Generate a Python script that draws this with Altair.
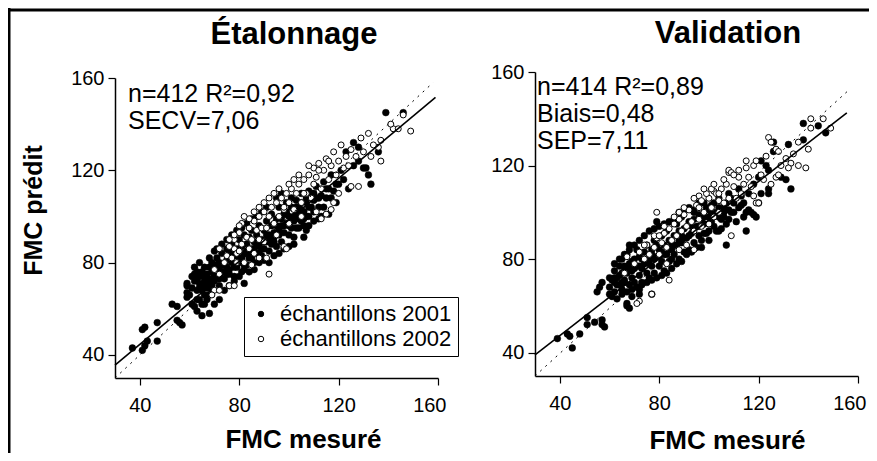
import altair as alt
import pandas as pd

# ---------------- data ----------------
ticks = [40, 80, 120, 160]
series = ["échantillons 2001", "échantillons 2002"]

cal_2001 = [(37,43),(41,51),(42,52),(42,44),(41,42),(43,46),(47,46),(47,54),(53,62),(55,61),(56,54),(57,53),(55,55),(59,65),(59,67),(59,70),(59,71),(61,62),(62,61),(63,59),(65,57),(62,75),(63,76),(64,64),(66,62),(68,58),(63,68),(65,68),(64,71),(66,72),(67,72),(69,70),(72,77),(75,75),(82,71),
            (60,66),(61,69),(62,72),(63,73),(64,74),(64,69),(65,76),(66,70),(66,66),(67,75),(67,69),(68,78),(68,73),(68,66),(69,76),(69,80),(70,72),(70,79),(70,85),(71,74),(71,82),(72,70),(72,80),(73,76),(73,84),(74,73),(74,79),(75,81),(75,86),(76,77),(76,84),(77,80),(77,88),(78,74),(78,83),(79,86),(79,78),(80,82),(80,90),(81,76),(81,87),(82,84),(82,92),(83,79),(83,88),(84,82),(84,91),(85,86),(85,94),(86,80),(86,89),(87,92),(87,84),(88,96),(88,87),(89,90),(89,83),(90,94),(90,86),(91,98),(91,89),(92,92),(92,85),(93,96),(93,101),(94,89),(94,93),(95,99),(95,87),(96,92),(96,104),(97,96),(97,89),(98,101),(98,93),(99,97),(99,106),(100,92),(100,100),(101,104),(101,95),(102,88),(102,98),(103,107),(103,101),(104,95),(104,104),(105,110),(105,98),(106,96),(106,102),(107,94),(107,106),(108,100),(108,111),(109,104),(110,107),(110,98),(111,113),(112,104),(113,100),(113,109),(114,115),(115,108),(116,101),(116,112),(117,118),(118,111),(119,106),(120,114),(121,120),(122,116),(123,128),(124,112),(126,132),(126,122),(128,124),(130,121),(131,121),(133,114),(132,118),(128,130),(136,128),(139,145),(146,145),
            (61,74),(62,78),(63,64),(64,80),(65,62),(66,78),(67,64),(68,82),(69,68),(70,62),(71,86),(72,64),(73,88),(74,68),(75,90),(76,70),(77,92),(78,72),(79,94),(80,74),(81,95),(82,77),(83,97),(84,76),(85,99),(86,77),(87,100),(88,80),(89,102),(90,81),(91,104),(92,80),(93,88),(94,83),(95,108),(96,84),(97,110),(98,86),(99,102),(100,87),(101,108),(102,91),(103,95),(104,99),(105,103),(106,91),(107,100),(108,96),(109,110),(110,102),(111,108),(112,99),(114,104),(115,112),(117,108),(119,114),
            (66,74),(68,71),(70,74),(72,73),(74,76),(76,75),(78,78),(80,80),(82,79),(84,84),(86,86),(88,84),(90,89),(92,90),(94,91),(96,94),(98,96),(100,96),(102,100),(104,101),(106,99),(108,104),(110,110),(112,108),(71,79),(75,78),(79,83),(83,85),(87,88),(91,92),(95,96),(99,101),(103,104),(107,108),(69,73),(73,79),(77,85),(81,82),(85,82),(89,86),(93,89),(97,99),(101,98),(105,106)]

cal_2002 = [(70,77),(72,75),(76,70),(78,70),(70,68),(72,68),(69,66),(81,97),(92,75),(98,87),(99,86),(118,106),(117,103),(115,101),(113,99),(78,86),(79,84),(125,113),(128,113),(137,124),(133,126),(136,130),(132,136),(129,134),(142,138),(144,138),(149,137),(146,144),(141,140),
            (74,80),(75,83),(76,87),(77,82),(78,90),(79,80),(80,85),(80,93),(81,88),(82,80),(83,91),(84,95),(84,86),(85,90),(86,98),(86,84),(87,94),(88,90),(88,100),(89,95),(90,102),(90,89),(91,95),(92,100),(93,104),(94,97),(95,106),(95,92),(96,100),(97,108),(98,103),(99,110),(100,97),(100,106),(101,112),(102,103),(103,110),(104,114),(105,106),(106,116),(107,110),(108,118),(109,108),(110,121),(110,114),(111,117),(112,123),(113,112),(114,120),(115,125),(116,116),(117,122),(118,128),(119,118),(120,124),(121,131),(122,121),(123,126),(124,122),(125,129),(127,126),(130,128),(134,131),(137,133),(120,110),(111,102),(105,100),(91,82),(85,79),(88,82),
            (76,90),(80,96),(84,99),(88,104),(92,108),(96,112),(100,114),(104,118),(72,86),(82,100),(90,106),(98,104),(106,110),(112,120),(116,124),(78,92),(86,102),(94,110),(102,116),(108,122)]

val_2001 = [(39,46),(43,48),(44,47),(45,42),(48,48),(51,52),(51,55),(54,53),(57,54),(58,51),(57,52),(55,66),(56,68),(57,70),(60,65),(62,72),(63,69),(66,70),(65,67),(67,61),(67,60),(68,59),(69,64),(72,65),(72,67),(77,65),(68,86),(79,96),(107,86),(115,92),(94,101),
            (60,68),(61,71),(62,66),(62,75),(63,72),(64,69),(64,77),(65,74),(65,80),(66,71),(66,77),(67,74),(67,82),(68,69),(68,78),(69,75),(69,72),(70,80),(70,70),(71,77),(71,84),(72,73),(72,81),(73,76),(73,70),(74,83),(74,78),(75,74),(75,86),(76,80),(76,72),(77,84),(77,77),(78,88),(78,74),(79,81),(79,86),(80,77),(80,84),(81,90),(81,79),(82,86),(82,75),(83,82),(83,92),(84,79),(84,88),(85,84),(85,76),(86,90),(86,82),(87,95),(87,86),(88,80),(88,92),(89,87),(89,98),(90,83),(90,93),(91,89),(92,96),(92,84),(93,91),(94,100),(94,87),(95,94),(96,90),(96,99),(97,85),(98,95),(98,104),(99,91),(100,98),(100,88),(101,103),(102,94),(103,99),(104,92),(104,106),(105,97),(106,102),(107,95),(108,108),(109,100),(110,104),(111,96),(112,110),(113,103),(114,98),(115,100),(116,108),(116,101),(117,100),(118,99),(118,112),(119,98),(120,104),(120,115),(121,108),(121,122),(123,120),(124,118),(124,110),(124,108),(126,130),(126,126),(129,115),(131,114),(133,110),(132,129),(138,138),(138,131),(147,134),(144,137),
            (60,72),(61,64),(62,78),(63,63),(64,80),(65,65),(66,82),(67,66),(68,84),(69,67),(70,86),(71,68),(72,88),(73,69),(74,90),(75,70),(76,92),(77,71),(78,93),(79,72),(80,94),(81,73),(82,95),(83,74),(84,96),(85,80),(86,97),(87,78),(88,100),(89,79),(90,101),(91,82),(92,102),(93,83),(94,97),(95,85),(96,104),(97,88),(98,91),(99,102),(100,92),(101,96),(102,100),(103,92),(104,98),(105,93),(106,98),(107,104),(108,97),(109,106),(110,100),(112,102),(113,107),(114,104),
            (62,70),(64,73),(66,75),(68,76),(70,76),(72,77),(74,80),(76,78),(78,80),(80,81),(82,82),(84,84),(86,86),(88,88),(90,89),(92,90),(94,93),(96,94),(98,98),(100,101),(102,104),(104,102),(106,100),(108,101),(65,70),(69,79),(73,80),(77,82),(81,83),(85,86),(89,90),(93,94),(97,97),(101,99),(105,101)]

val_2002 = [(66,74),(84,71),(67,81),(72,62),(71,61),(77,65),(79,100),(109,90),(118,107),(119,104),(100,106),(102,109),(108,117),(141,140),(146,140),(141,136),(149,136),(136,130),(140,127),(124,132),(125,130),(127,127),(128,126),(131,123),(133,121),(132,119),(136,120),(139,119),(127,115),(128,116),(115,122),(115,119),(118,120),(119,122),(108,118),(109,117),(101,110),(104,105),(96,107),(120,104),
            (70,78),(72,83),(74,80),(75,86),(76,82),(78,85),(79,89),(80,82),(81,87),(82,91),(83,85),(84,93),(85,88),(86,95),(87,90),(88,84),(88,97),(89,92),(90,99),(91,86),(91,94),(92,101),(93,96),(94,92),(95,103),(96,97),(97,94),(97,105),(98,100),(99,108),(100,95),(101,102),(102,98),(103,108),(104,100),(105,110),(106,104),(107,112),(108,106),(110,111),(111,106),(112,115),(113,108),(114,112),(116,115),(117,111),(121,116),(122,114),(123,124),(125,112),(129,120),(134,125),(83,78),(94,84),
            (74,86),(78,90),(82,94),(86,98),(90,102),(94,106),(98,110),(102,112),(106,114),(110,116),(80,90),(88,100),(96,102),(104,108),(112,118)]

cal_fit_x = [30, 159]
cal_fit_y = [35.6, 151.6]
cal_one_x = [30, 158]
cal_one_y = [30, 158]
val_fit_x = [30, 155.5]
val_fit_y = [39, 142.5]
val_one_x = [30, 156]
val_one_y = [30, 152]

# ---------------- layout ----------------
W, H = 861, 445
FONT = "Liberation Sans"


def pts(pairs, label):
    return pd.DataFrame({"x": [p[0] for p in pairs], "y": [p[1] for p in pairs], "serie": label})


fill_scale = alt.Scale(domain=series, range=["black", "white"])
legend = alt.Legend(orient="none", legendX=236, legendY=289, title=None,
                    strokeColor="black", fillColor="white", padding=6,
                    labelFont=FONT, labelFontSize=22, labelColor="black", labelLimit=0,
                    symbolType="circle", symbolSize=30, symbolStrokeColor="black",
                    symbolStrokeWidth=1, labelOffset=8, rowPadding=3)


def panel(p01, p02, fit_x, fit_y, one_x, one_y, xr, yr, xoff, yoff, xtitle, xtx, xty, ytitle):
    xs = alt.Scale(domain=[30, 160], range=xr, nice=False, zero=False)
    ys = alt.Scale(domain=[30, 160], range=yr, nice=False, zero=False)
    xa = alt.Axis(orient="bottom", offset=xoff, values=ticks, grid=False, labelPadding=10,
                  labelFlush=1, labelFlushOffset=8,
                  title=xtitle, titleX=xtx, titleY=xty, titleAlign="center", titleBaseline="middle",
                  titleFont=FONT, titleFontSize=26, titleFontWeight="bold", titleColor="black")
    if ytitle:
        ya = alt.Axis(orient="left", offset=yoff, values=ticks, grid=False,
                      title=ytitle, titleX=25 + yoff, titleY=202, titleAngle=-90,
                      titleAlign="center", titleBaseline="middle",
                      titleFont=FONT, titleFontSize=25, titleFontWeight="bold", titleColor="black")
    else:
        ya = alt.Axis(orient="left", offset=yoff, values=ticks, grid=False, title=None)
    X = alt.X("x:Q", scale=xs, axis=xa)
    Y = alt.Y("y:Q", scale=ys, axis=ya)

    d01 = alt.Chart(pts(p01, series[0])).mark_point(
        shape="circle", filled=True, size=46, stroke="black", strokeWidth=0.5, opacity=1
    ).encode(x=X, y=Y, fill=alt.Fill("serie:N", scale=fill_scale, legend=legend))
    d02 = alt.Chart(pts(p02, series[1])).mark_point(
        shape="circle", filled=True, size=36, stroke="black", strokeWidth=1, opacity=1
    ).encode(x=X, y=Y, fill=alt.Fill("serie:N", scale=fill_scale, legend=legend))
    fit = alt.Chart(pd.DataFrame({"x": fit_x, "y": fit_y})).mark_line(
        color="black", strokeWidth=1.6).encode(x=X, y=Y)
    one = alt.Chart(pd.DataFrame({"x": one_x, "y": one_y})).mark_line(
        color="black", strokeWidth=1, strokeDash=[2, 5]).encode(x=X, y=Y)
    return alt.layer(d01, d02, one, fit)


left = panel(cal_2001, cal_2002, cal_fit_x, cal_fit_y, cal_one_x, cal_one_y,
             [107, 430], [370, 70], -(H - 370), -107, "FMC mesuré", 295, 61, "FMC prédit")
right = panel(val_2001, val_2002, val_fit_x, val_fit_y, val_one_x, val_one_y,
              [527, 850], [368, 64], -(H - 368), -527, "FMC mesuré", 719, 64, None)

one_row = pd.DataFrame({"k": [0]})


def label(txt, x, y, size, weight="normal", align="left", baseline="alphabetic"):
    return alt.Chart(one_row).mark_text(
        text=txt, font=FONT, fontSize=size, fontWeight=weight, align=align,
        baseline=baseline, color="black", lineBreak="\n", lineHeight=27
    ).encode(x=alt.value(x), y=alt.value(y))


titles = alt.layer(
    label("Étalonnage", 286, 27, 31, "bold", "center", "middle"),
    label("Validation", 720, 26, 31, "bold", "center", "middle"),
    label("n=412 R²=0,92\nSECV=7,06", 120, 94, 25),
    label("n=414 R²=0,89\nBiais=0,48\nSEP=7,11", 529, 87, 25),
)

frame = alt.layer(
    alt.Chart(one_row).mark_rule(color="black", strokeWidth=3).encode(
        x=alt.value(0), x2=alt.value(W), y=alt.value(2)),
    alt.Chart(one_row).mark_rule(color="black", strokeWidth=3).encode(
        x=alt.value(1), y=alt.value(0), y2=alt.value(H)),
)

chart = alt.layer(left, right, titles, frame).resolve_scale(
    x="independent", y="independent"
).properties(
    width=W, height=H, autosize=alt.AutoSizeParams(type="none"), padding=0
).configure_view(stroke=None).configure_axis(
    labelFont=FONT, labelFontSize=20, labelColor="black", labelPadding=4,
    tickColor="black", tickSize=7, tickWidth=1.2,
    domainColor="black", domainWidth=1.5
)

chart.save("out.html", embed_options={"renderer": "svg", "actions": False})
